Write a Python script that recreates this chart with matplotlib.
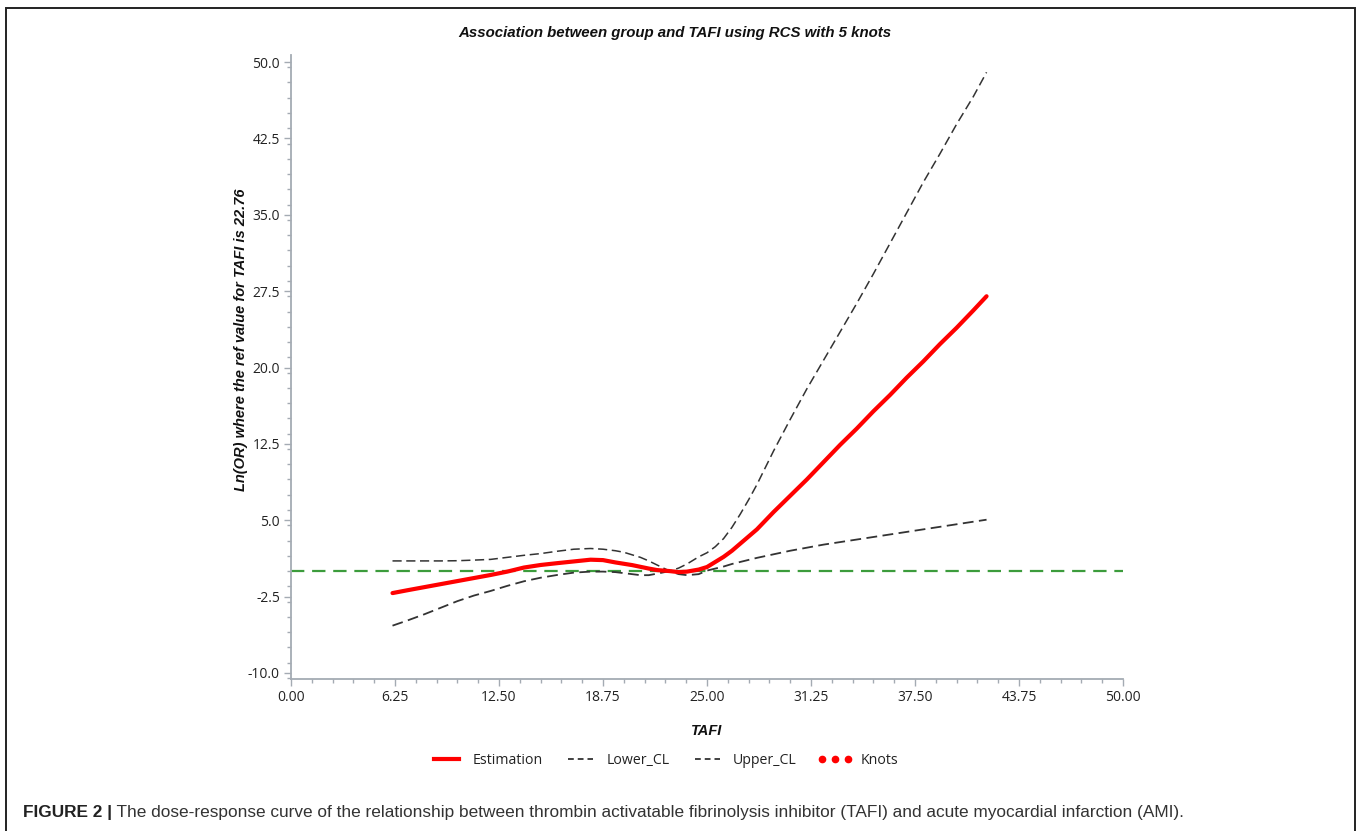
import matplotlib
matplotlib.use("Agg")
import matplotlib.pyplot as plt
from matplotlib.lines import Line2D
from matplotlib.patches import Rectangle
from matplotlib.ticker import FixedLocator, MultipleLocator

# values
tafi = [6.1, 7, 8, 9, 10, 11, 12, 13, 14, 15, 16, 17, 18, 18.75, 19.5, 20,
        20.5, 21, 21.5, 22, 22.76, 23.3, 23.8, 24.5, 25, 25.5, 26, 26.5, 27,
        27.5, 28, 29, 30, 31, 32, 33, 34, 35, 36, 37, 38, 39, 40, 41, 41.8]
estimation = [-2.16, -1.88, -1.58, -1.28, -0.98, -0.68, -0.38, -0.05, 0.35,
              0.6, 0.78, 0.95, 1.12, 1.08, 0.85, 0.72, 0.59, 0.42, 0.25, 0.1,
              0.0, -0.1, -0.05, 0.15, 0.4, 0.9, 1.4, 2.0, 2.7, 3.4, 4.1, 5.8,
              7.4, 9.0, 10.7, 12.4, 14.0, 15.7, 17.3, 19.0, 20.6, 22.3, 23.9,
              25.6, 27.0]
upper_cl = [1.0, 1.0, 1.0, 1.0, 1.02, 1.08, 1.15, 1.35, 1.55, 1.72, 1.95,
            2.15, 2.22, 2.15, 2.0, 1.85, 1.6, 1.35, 1.0, 0.6, 0.0, 0.3, 0.7,
            1.4, 1.8, 2.4, 3.2, 4.3, 5.6, 7.0, 8.5, 11.8, 14.9, 17.9, 20.7,
            23.5, 26.3, 29.2, 32.2, 35.2, 38.2, 41.0, 43.9, 46.6, 49.0]
lower_cl = [-5.36, -4.85, -4.25, -3.6, -2.95, -2.4, -1.95, -1.45, -1.0,
            -0.65, -0.38, -0.15, -0.05, -0.05, -0.1, -0.2, -0.3, -0.4, -0.4,
            -0.25, 0.0, -0.3, -0.4, -0.3, 0.05, 0.25, 0.45, 0.7, 0.9, 1.1,
            1.3, 1.65, 2.0, 2.3, 2.6, 2.85, 3.1, 3.35, 3.6, 3.85, 4.1, 4.35,
            4.6, 4.85, 5.05]
ref_value = 0.0
x_ticks = [0.00, 6.25, 12.50, 18.75, 25.00, 31.25, 37.50, 43.75, 50.00]
y_ticks = [-10.0, -2.5, 5.0, 12.5, 20.0, 27.5, 35.0, 42.5, 50.0]
legend_labels = ["Estimation", "Lower_CL", "Upper_CL", "Knots"]

W, H = 1357, 831
fig = plt.figure(figsize=(W / 100, H / 100), dpi=100)
fig.patch.set_facecolor("white")

# frame round the whole figure
fig.add_artist(Rectangle((6 / W, -0.05), (1355 - 6) / W, 1.05 - 8 / H,
                         transform=fig.transFigure, fill=False,
                         edgecolor="#222222", linewidth=1.4))

ax = fig.add_axes([291 / W, 1 - 679 / H, (1123 - 291) / W, (679 - 55) / H])

ax.axhline(ref_value, color="#3c9c3c", lw=1.6, dashes=(6, 3.5), zorder=1)
ax.plot(tafi, lower_cl, color="#333333", lw=1.3, dashes=(6, 3), zorder=2)
ax.plot(tafi, upper_cl, color="#333333", lw=1.1, dashes=(6, 3), zorder=2)
ax.plot(tafi, estimation, color="#ff0000", lw=3.0, solid_capstyle="round", zorder=3)

ax.set_xlim(0, 50)
ax.set_ylim(-10.6, 50.7)
ax.xaxis.set_major_locator(FixedLocator(x_ticks))
ax.yaxis.set_major_locator(FixedLocator(y_ticks))
ax.xaxis.set_minor_locator(MultipleLocator(1.25))
ax.yaxis.set_minor_locator(MultipleLocator(1.5))
ax.set_xticklabels([f"{v:.2f}" for v in x_ticks])
ax.set_yticklabels([f"{v:.1f}" for v in y_ticks])

for s in ("top", "right"):
    ax.spines[s].set_visible(False)
for s in ("left", "bottom"):
    ax.spines[s].set_color("#a4abb3")
    ax.spines[s].set_linewidth(1.3)
ax.tick_params(which="major", length=5, width=1, color="#a4abb3",
               labelsize=10, labelcolor="#222222", pad=3)
ax.tick_params(which="minor", length=3, width=1, color="#a4abb3")
for lab in ax.get_xticklabels() + ax.get_yticklabels():
    lab.set_family("Open Sans")

fig.text(675 / W, 1 - 33 / H, "Association between group and TAFI using RCS with 5 knots",
         ha="center", va="center", fontsize=10.8, fontweight="bold",
         fontstyle="italic", family="Liberation Sans", color="#111111")
fig.text(707 / W, 1 - 731 / H, "TAFI", ha="center", va="center", fontsize=10.5,
         fontweight="bold", fontstyle="italic", family="Liberation Sans", color="#111111")
fig.text(241 / W, 1 - 340 / H, "Ln(OR) where the ref value for TAFI is 22.76",
         ha="center", va="center", rotation=90, fontsize=10.5, fontweight="bold",
         fontstyle="italic", family="Liberation Sans", color="#111111")

# legend proxies (knots are not drawn in the panel)
handles = [
    Line2D([], [], color="#ff0000", lw=3.0),
    Line2D([], [], color="#333333", lw=1.3, dashes=(3.2, 2.2)),
    Line2D([], [], color="#333333", lw=1.3, dashes=(3.2, 2.2)),
    Line2D([], [], color="#ff0000", ls="none", marker="o", markersize=4.5),
]
leg = fig.legend(handles, legend_labels,
                 loc="center", bbox_to_anchor=(664 / W, 1 - 760 / H), ncol=4,
                 frameon=False, numpoints=3, handlelength=2.4, handletextpad=0.6,
                 columnspacing=1.5, prop={"family": "Open Sans", "size": 10.2})
for t in leg.get_texts():
    t.set_color("#222222")

t1 = fig.text(23 / W, 1 - 812 / H, "FIGURE 2 |", ha="left", va="center",
              fontsize=12.4, fontweight="bold", family="Liberation Sans", color="#222222")
ax.annotate(" The dose-response curve of the relationship between thrombin activatable "
            "fibrinolysis inhibitor (TAFI) and acute myocardial infarction (AMI).",
            xy=(1, 0.5), xycoords=t1, ha="left", va="center", fontsize=12.4,
            family="Liberation Sans", color="#333333", annotation_clip=False)

fig.savefig("out.png", dpi=100)
